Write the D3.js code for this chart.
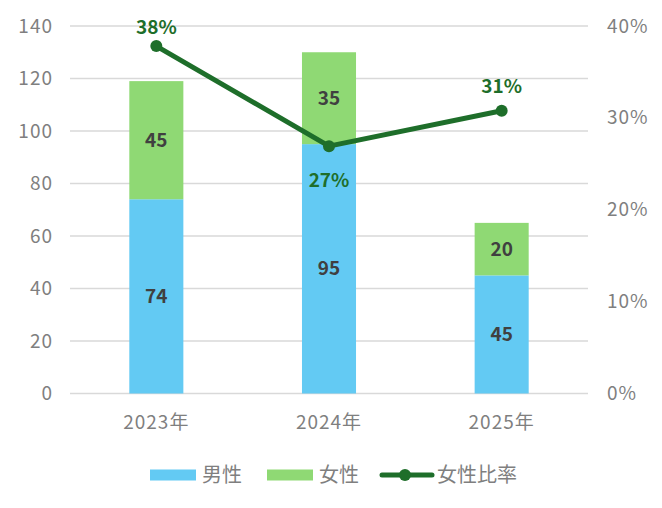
<!DOCTYPE html>
<html>
<head>
<meta charset="utf-8">
<script src="https://cdn.jsdelivr.net/npm/d3@7"></script>
<style>
  body { margin: 0; background: #fff; }
  text { font-family: "Noto Sans CJK JP", "Noto Sans", sans-serif; }
</style>
</head>
<body>
<svg id="chart" width="662" height="508"></svg>
<script>
var years = ["2023年", "2024年", "2025年"];
var male = [74, 95, 45];
var female = [45, 35, 20];
var ratio = [45 / 119, 35 / 130, 20 / 65];
var leftTicks = [0, 20, 40, 60, 80, 100, 120, 140];
var rightTicks = [0, 0.1, 0.2, 0.3, 0.4];

var svg = d3.select("#chart");
var plotL = 70, plotR = 588, plotT = 26, plotB = 393.5;

var x = d3.scaleBand().domain(years).range([plotL, plotR]).paddingInner(0.687).paddingOuter(0.3435);
var y = d3.scaleLinear().domain([0, 140]).range([plotB, plotT]);
var y2 = d3.scaleLinear().domain([0, 0.4]).range([plotB, plotT]);

// grid
svg.append("g").selectAll("line").data(leftTicks).enter()
  .append("line")
  .attr("x1", plotL).attr("x2", plotR)
  .attr("y1", function(d) { return y(d); })
  .attr("y2", function(d) { return y(d); })
  .attr("stroke", "#d9d9d9")
  .attr("stroke-width", 1.3);

// axes
var yAxis = d3.axisLeft(y).tickValues(leftTicks).tickSize(0).tickPadding(18);
var gy = svg.append("g").attr("transform", "translate(" + plotL + ",0)").call(yAxis);
var yAxis2 = d3.axisRight(y2).tickValues(rightTicks).tickSize(0).tickPadding(19).tickFormat(d3.format(".0%"));
var gy2 = svg.append("g").attr("transform", "translate(" + plotR + ",0)").call(yAxis2);
var xAxis = d3.axisBottom(x).tickSize(0).tickPadding(22);
var gx = svg.append("g").attr("transform", "translate(0," + plotB + ")").call(xAxis);
[gy, gy2, gx].forEach(function(g) {
  g.select(".domain").remove();
  g.selectAll("text").attr("fill", "#7f7f7f").style("font-size", "19px")
    .style("letter-spacing", "1px")
    .style("font-family", '"Noto Sans CJK JP", sans-serif');
});
gy.selectAll("text").attr("dx", "1px");

// bars
var bw = x.bandwidth();
svg.append("g").selectAll("rect").data(years).enter()
  .append("rect")
  .attr("x", function(d) { return x(d); })
  .attr("y", function(d, i) { return y(male[i]); })
  .attr("width", bw)
  .attr("height", function(d, i) { return y(0) - y(male[i]); })
  .attr("fill", "#63caf3");

svg.append("g").selectAll("rect").data(years).enter()
  .append("rect")
  .attr("x", function(d) { return x(d); })
  .attr("y", function(d, i) { return y(male[i] + female[i]); })
  .attr("width", bw)
  .attr("height", function(d, i) { return y(male[i]) - y(male[i] + female[i]); })
  .attr("fill", "#8fd974");

// bar labels
svg.append("g").selectAll("text").data(years).enter()
  .append("text")
  .attr("x", function(d) { return x(d) + bw / 2; })
  .attr("y", function(d, i) { return y(male[i] / 2); })
  .attr("dy", "0.35em")
  .attr("text-anchor", "middle")
  .attr("fill", "#404040")
  .style("font-size", "19px").style("font-weight", "bold")
  .text(function(d, i) { return male[i]; });

svg.append("g").selectAll("text").data(years).enter()
  .append("text")
  .attr("x", function(d) { return x(d) + bw / 2; })
  .attr("y", function(d, i) { return y(male[i] + female[i] / 2); })
  .attr("dy", "0.35em")
  .attr("text-anchor", "middle")
  .attr("fill", "#404040")
  .style("font-size", "19px").style("font-weight", "bold")
  .text(function(d, i) { return female[i]; });

// ratio line
var line = d3.line()
  .x(function(d, i) { return x(years[i]) + bw / 2; })
  .y(function(d) { return y2(d); });

svg.append("path").datum(ratio)
  .attr("d", line)
  .attr("fill", "none")
  .attr("stroke", "#1e6e2a")
  .attr("stroke-width", 5)
  .attr("stroke-linejoin", "round");

svg.append("g").selectAll("circle").data(ratio).enter()
  .append("circle")
  .attr("cx", function(d, i) { return x(years[i]) + bw / 2; })
  .attr("cy", function(d) { return y2(d); })
  .attr("r", 6)
  .attr("fill", "#1e6e2a");

var labelOff = [-19, 34, -24];
svg.append("g").selectAll("text").data(ratio).enter()
  .append("text")
  .attr("x", function(d, i) { return x(years[i]) + bw / 2; })
  .attr("y", function(d, i) { return y2(d) + labelOff[i]; })
  .attr("dy", "0.35em")
  .attr("text-anchor", "middle")
  .attr("fill", "#1e6e2a")
  .style("font-size", "19px").style("font-weight", "bold")
  .text(function(d) { return d3.format(".0%")(d); });

// legend
var lg = svg.append("g").attr("transform", "translate(0,475)");
lg.selectAll("text").data([]).enter();
lg.append("rect").attr("x", 150).attr("y", -5.5).attr("width", 46).attr("height", 11).attr("fill", "#63caf3");
lg.append("text").attr("x", 202).attr("dy", "0.35em").attr("fill", "#7f7f7f").style("font-size", "20px").text("男性");
lg.append("rect").attr("x", 267).attr("y", -5.5).attr("width", 46).attr("height", 11).attr("fill", "#8fd974");
lg.append("text").attr("x", 319).attr("dy", "0.35em").attr("fill", "#7f7f7f").style("font-size", "20px").text("女性");
lg.append("line").attr("x1", 382).attr("x2", 432).attr("stroke", "#1e6e2a").attr("stroke-width", 5).attr("stroke-linecap", "round");
lg.append("circle").attr("cx", 405).attr("r", 6).attr("fill", "#1e6e2a");
lg.append("text").attr("x", 437).attr("dy", "0.35em").attr("fill", "#7f7f7f").style("font-size", "20px").text("女性比率");
</script>
</body>
</html>
